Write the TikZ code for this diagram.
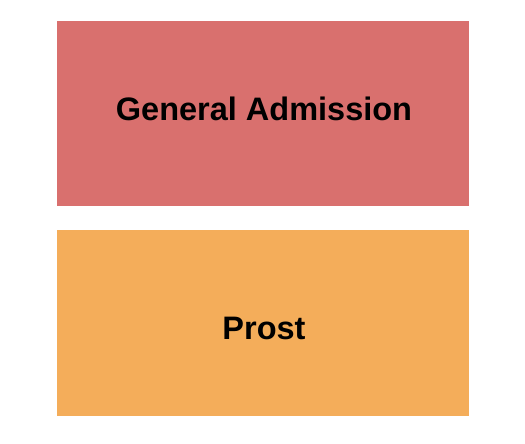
\documentclass[tikz,border=0pt]{standalone}
\usepackage{fontspec}
\setmainfont{Liberation Sans}
\definecolor{garea}{HTML}{D9706E}
\definecolor{parea}{HTML}{F4AD5A}
\tikzset{
  section/.style={inner sep=0pt, outer sep=0pt, minimum width=412pt},
  seclabel/.style={font=\fontsize{32.5}{38}\selectfont\bfseries, text=black},
}
\begin{document}
\begin{tikzpicture}[x=1pt,y=-1pt]
\useasboundingbox (0,0) rectangle (525,444);
\node[section, fill=garea, minimum height=185pt] (ga) at (263,113.5) {};
\node[seclabel] (galabel) at (264,109) {General Admission};
\node[section, fill=parea, minimum height=186pt] (prost) at (263,323) {};
\node[seclabel] (prostlabel) at (264,328) {Prost};
\end{tikzpicture}
\end{document}
